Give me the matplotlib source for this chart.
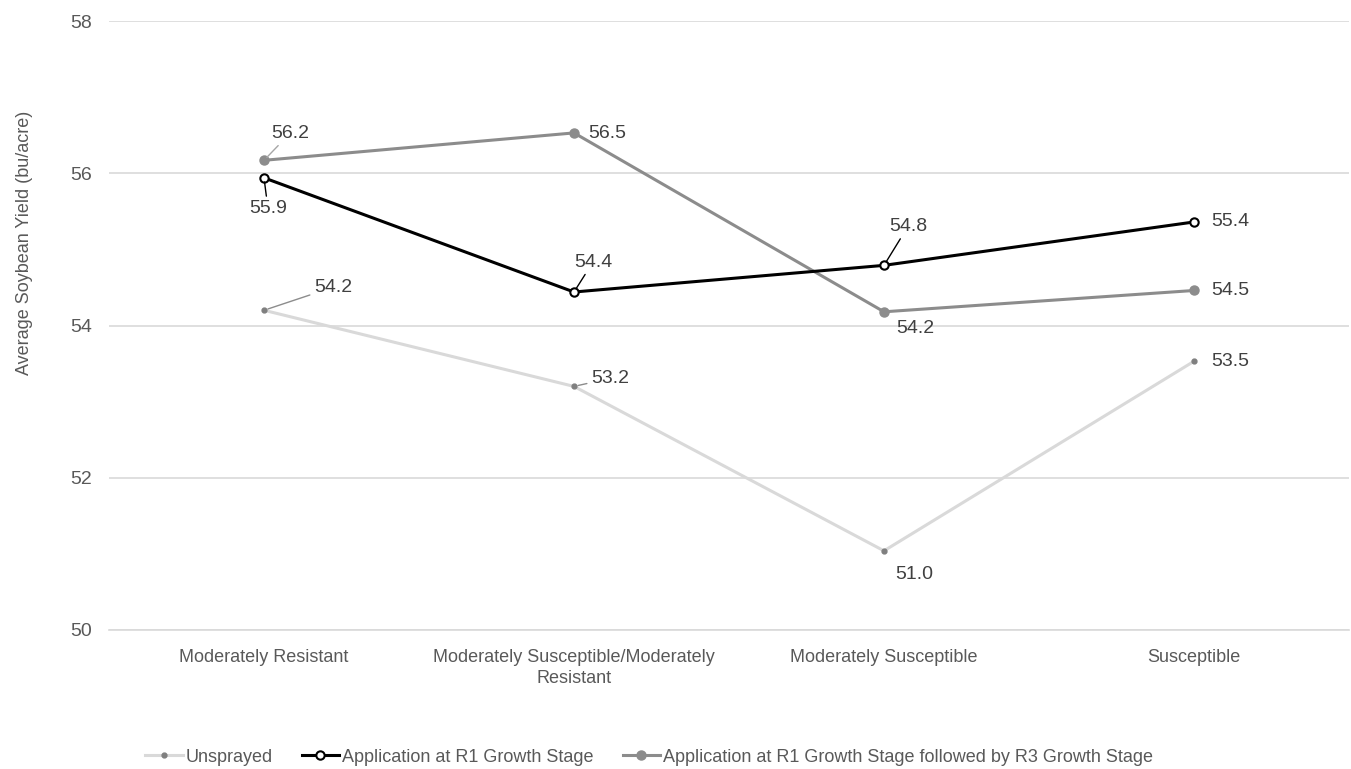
import matplotlib
matplotlib.use("Agg")
import matplotlib.pyplot as plt

# ---------------------------------------------------------------------------
# Data
# ---------------------------------------------------------------------------

categories = [
    "Moderately Resistant",
    "Moderately Susceptible/Moderately\nResistant",
    "Moderately Susceptible",
    "Susceptible",
]
series_names = [
    "Unsprayed",
    "Application at R1 Growth Stage",
    "Application at R1 Growth Stage followed by R3 Growth Stage",
]
unsprayed = [54.2, 53.2, 51.04, 53.53]
r1 = [55.94, 54.44, 54.79, 55.36]
r1_r3 = [56.17, 56.53, 54.18, 54.46]
y_ticks = [50, 52, 54, 56, 58]

# label offsets in pixels (dx, dy) and whether a leader line is drawn
unsprayed_offsets = [((69, 23), True), ((36, 8), True), ((30, -24), False), ((36, 0), False)]
r1_offsets = [((4, -31), True), ((19, 30), True), ((24, 39), True), ((36, 0), False)]
r1_r3_offsets = [((26, 27), True), ((33, -1), False), ((31, -17), False), ((36, 0), False)]

# ---------------------------------------------------------------------------
# Style
# ---------------------------------------------------------------------------

plt.rcParams["font.family"] = ["Liberation Sans", "DejaVu Sans"]
text_color = "#595959"

fig = plt.figure(figsize=(13.51, 7.69), dpi=100)
ax = fig.add_axes([109 / 1351, (769 - 630) / 769, (1349 - 109) / 1351, (630 - 21) / 769])

x = list(range(len(categories)))

ax.plot(x, unsprayed, color="#d9d9d9", linewidth=2.2, marker="o", markersize=3.5,
        markerfacecolor="#7f7f7f", markeredgecolor="#7f7f7f", label=series_names[0], zorder=3)
ax.plot(x, r1, color="black", linewidth=2.2, marker="o", markersize=6,
        markerfacecolor="white", markeredgecolor="black", markeredgewidth=1.5,
        label=series_names[1], zorder=5)
ax.plot(x, r1_r3, color="#8c8c8c", linewidth=2.2, marker="o", markersize=6.5,
        markerfacecolor="#8c8c8c", markeredgecolor="#8c8c8c", label=series_names[2], zorder=4)


def label_points(values, offsets, line_color):
    for xi, (v, ((dx, dy), leader)) in enumerate(zip(values, offsets)):
        props = None
        if leader:
            props = dict(arrowstyle="-", color=line_color, lw=1.0, shrinkA=1, shrinkB=3)
        ax.annotate(f"{v:.1f}", xy=(xi, v), xytext=(dx, dy), textcoords="offset pixels",
                    ha="center", va="center", fontsize=14, color="#404040",
                    arrowprops=props, zorder=6)


label_points(unsprayed, unsprayed_offsets, "#8c8c8c")
label_points(r1, r1_offsets, "black")
label_points(r1_r3, r1_r3_offsets, "#a6a6a6")

ax.set_xlim(-0.5, len(categories) - 0.5)
ax.set_ylim(50, 58)
ax.set_yticks(y_ticks)
ax.set_yticklabels([str(t) for t in y_ticks], fontsize=14, color=text_color)
ax.set_xticks(x)
ax.set_xticklabels(categories, fontsize=13, color=text_color, linespacing=1.25)
ax.tick_params(axis="both", length=0)
ax.tick_params(axis="x", pad=14)
ax.tick_params(axis="y", pad=12)
ax.grid(axis="y", color="#d9d9d9", linewidth=1.2)
ax.set_axisbelow(True)
for side in ["top", "right", "left"]:
    ax.spines[side].set_visible(False)
ax.spines["bottom"].set_color("#d9d9d9")
ax.spines["bottom"].set_linewidth(1.2)

ax.set_ylabel("Average Soybean Yield (bu/acre)", fontsize=13, color=text_color)
ax.yaxis.set_label_coords(-76 / 1240, (630 - 243) / 609)

fig.legend(loc="center", bbox_to_anchor=(649 / 1351, 1 - 757 / 769), ncol=3, frameon=False,
           fontsize=13, labelcolor=text_color, handlelength=2.1, handletextpad=0.15,
           columnspacing=1.6)

fig.savefig("out.png", dpi=100)
